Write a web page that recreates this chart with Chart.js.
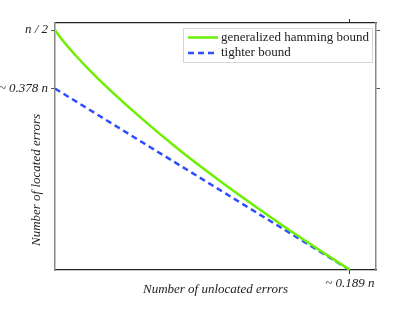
<!DOCTYPE html>
<html>
<head>
<meta charset="utf-8">
<script src="https://cdn.jsdelivr.net/npm/chart.js@4/dist/chart.umd.min.js"></script>
<style>
  html, body { margin: 0; padding: 0; background: #fff; }
  #wrap { width: 415px; height: 313px; }
</style>
</head>
<body>
<div id="wrap"><canvas id="bChart" width="415" height="313"></canvas></div>
<script>
// values (x, y in units of n)
const hammingX = [0, 0.0032, 0.0128, 0.0269, 0.0525, 0.0801, 0.1057, 0.1314, 0.1570, 0.189];
const hammingY = [0.5, 0.4854, 0.4485, 0.4008, 0.3242, 0.2490, 0.1856, 0.1256, 0.0681, 0];
const tighterX = [0, 0.189];
const tighterY = [0.378, 0];

const seriesNames = ['generalized hamming bound', 'tighter bound'];
const yTickValues = [0.5, 0.378];
const yTickLabels = ['n / 2', '~ 0.378 n'];
const xTickValues = [0.189];
const xTickLabels = ['~ 0.189 n'];
const xTitle = 'Number of unlocated errors';
const yTitle = 'Number of located errors';

const xMax = 0.2057, yMax = 0.5146;
const serifItalic = { family: '"Liberation Serif", "DejaVu Serif", serif', size: 13, style: 'italic' };

const toPts = (xs, ys) => xs.map((x, i) => ({ x: x, y: ys[i] }));

/* ───────── custom legend + axis titles ───────── */
const extras = {
  id: 'extras',
  afterDraw(c) {
    const ctx = c.ctx;
    const a = c.chartArea;
    ctx.save();
    // legend box
    ctx.fillStyle = 'rgba(255,255,255,0.9)';
    ctx.strokeStyle = '#d6d6d6';
    ctx.lineWidth = 1;
    ctx.fillRect(183, 28, 189, 34);
    ctx.strokeRect(183.5, 28.5, 189, 34);
    ctx.font = '13px "Liberation Serif", "DejaVu Serif", serif';
    ctx.textBaseline = 'middle';
    c.data.datasets.forEach((ds, i) => {
      const y = 37.5 + i * 15.5;
      ctx.strokeStyle = ds.borderColor;
      ctx.lineWidth = ds.borderWidth;
      ctx.setLineDash(ds.borderDash || []);
      ctx.beginPath();
      ctx.moveTo(188, y);
      ctx.lineTo(218, y);
      ctx.stroke();
      ctx.setLineDash([]);
      ctx.fillStyle = '#222';
      ctx.fillText(ds.label, 221, y);
    });
    // axis titles
    ctx.font = 'italic 13px "Liberation Serif", "DejaVu Serif", serif';
    ctx.fillStyle = '#222';
    ctx.textAlign = 'center';
    ctx.fillText(xTitle, (a.left + a.right) / 2, 290);
    ctx.translate(37, 180);
    ctx.rotate(-Math.PI / 2);
    ctx.fillText(yTitle, 0, 0);
    ctx.restore();
  }
};

const tickGrid = (color) => ({ drawOnChartArea: false, drawTicks: true, tickLength: 4, color: color });

new Chart(document.getElementById('bChart'), {
  type: 'line',
  data: {
    datasets: [
      {
        label: seriesNames[0],
        data: toPts(hammingX, hammingY),
        borderColor: '#6cf000',
        borderWidth: 2.5,
        pointRadius: 0,
        cubicInterpolationMode: 'monotone',
        xAxisID: 'x', yAxisID: 'y'
      },
      {
        label: seriesNames[1],
        data: toPts(tighterX, tighterY),
        borderColor: '#2f4cff',
        borderWidth: 2.5,
        borderDash: [6, 4],
        pointRadius: 0,
        xAxisID: 'x', yAxisID: 'y'
      }
    ]
  },
  options: {
    responsive: false,
    devicePixelRatio: 1,
    animation: false,
    layout: { padding: 0 },
    plugins: { legend: { display: false }, tooltip: { enabled: false } },
    scales: {
      x: {
        type: 'linear', position: 'bottom', min: 0, max: xMax,
        afterBuildTicks: ax => { ax.ticks = xTickValues.map(v => ({ value: v })); },
        afterFit: ax => { ax.height = 43; },
        ticks: {
          font: serifItalic, color: '#222', padding: 2, maxRotation: 0,
          callback: v => xTickLabels[xTickValues.indexOf(v)]
        },
        grid: tickGrid('#333'),
        border: { color: '#222', width: 1.2 }
      },
      x2: {
        type: 'linear', position: 'top', min: 0, max: xMax,
        afterBuildTicks: ax => { ax.ticks = xTickValues.map(v => ({ value: v })); },
        afterFit: ax => { ax.height = 23; },
        ticks: { display: false },
        grid: tickGrid('#333'),
        border: { color: '#222', width: 1.2 }
      },
      y: {
        type: 'linear', position: 'left', min: 0, max: yMax,
        afterBuildTicks: ax => { ax.ticks = yTickValues.map(v => ({ value: v })); },
        afterFit: ax => { ax.width = 55; },
        ticks: {
          font: serifItalic, color: '#222', padding: 3,
          callback: v => yTickLabels[yTickValues.indexOf(v)]
        },
        grid: tickGrid('#555'),
        border: { color: '#888', width: 1.5 }
      },
      y2: {
        type: 'linear', position: 'right', min: 0, max: yMax,
        afterBuildTicks: ax => { ax.ticks = yTickValues.map(v => ({ value: v })); },
        afterFit: ax => { ax.width = 39; },
        ticks: { display: false },
        grid: tickGrid('#555'),
        border: { color: '#888', width: 1.5 }
      }
    }
  },
  plugins: [extras]
});
</script>
</body>
</html>
